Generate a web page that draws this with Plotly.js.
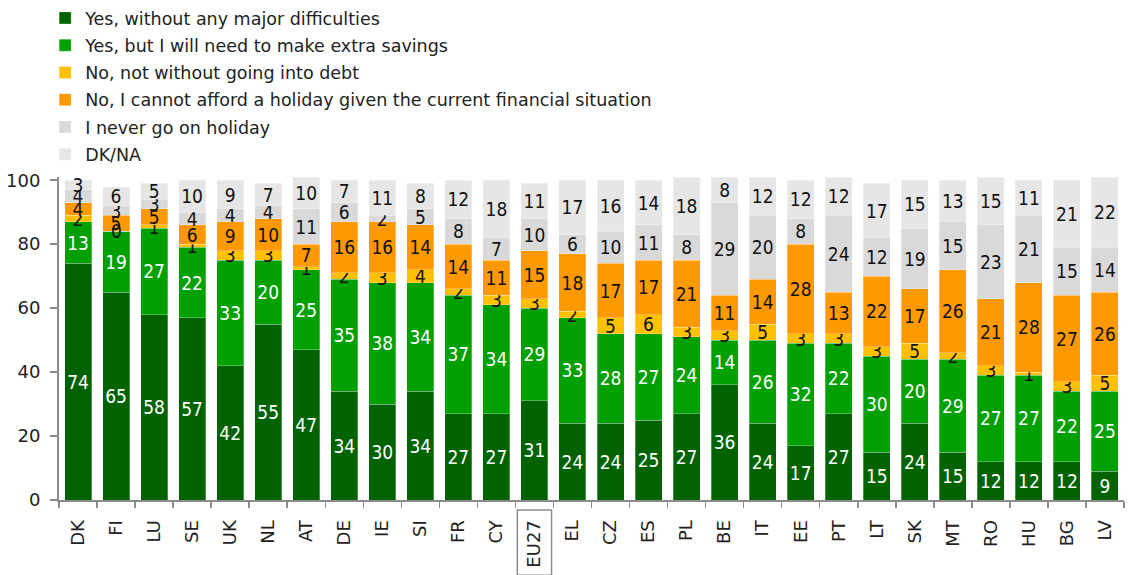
<!DOCTYPE html>
<html><head><meta charset="utf-8">
<script src="https://cdn.plot.ly/plotly-3.0.1.min.js"></script>
<style>html,body{margin:0;padding:0;background:#fff}#chart{width:1128px;height:575px}</style>
</head><body><div id="chart"></div>
<script>
var countries = ["DK","FI","LU","SE","UK","NL","AT","DE","IE","SI","FR","CY","EU27","EL","CZ","ES","PL","BE","IT","EE","PT","LT","SK","MT","RO","HU","BG","LV"];
var seriesNames = ["Yes, without any major difficulties","Yes, but I will need to make extra savings","No, not without going into debt","No, I cannot afford a holiday given the current financial situation","I never go on holiday","DK/NA"];
var yesEasy   = [74,65,58,57,42,55,47,34,30,34,27,27,31,24,24,25,27,36,24,17,27,15,24,15,12,12,12,9];
var yesSave   = [13,19,27,22,33,20,25,35,38,34,37,34,29,33,28,27,24,14,26,32,22,30,20,29,27,27,22,25];
var noDebt    = [2,0,1,1,3,3,1,2,3,4,2,3,3,2,5,6,3,3,5,3,3,3,5,2,3,1,3,5];
var noAfford  = [4,5,5,6,9,10,7,16,16,14,14,11,15,18,17,17,21,11,14,28,13,22,17,26,21,28,27,26];
var neverGo   = [4,3,3,4,4,4,11,6,2,5,8,7,10,6,10,11,8,29,20,8,24,12,19,15,23,21,15,14];
var dkna      = [3,6,5,10,9,7,10,7,11,8,12,18,11,17,16,14,18,8,12,12,12,17,15,13,15,11,21,22];
var yTicks    = [0,20,40,60,80,100];

var allVals = [yesEasy,yesSave,noDebt,noAfford,neverGo,dkna];
var colors = ["#006300","#00A000","#FFC000","#FF9900","#D9D9D9","#E6E6E6"];
var textColors = ["#ffffff","#ffffff","#111111","#111111","#111111","#111111"];
var FONT = "DejaVu Sans, sans-serif";
var LFONT = "DejaVu Sans Condensed, DejaVu Sans, sans-serif";

var traces = allVals.map(function(v,i){
  return {
    type:"bar", name:seriesNames[i], x:countries, y:v,
    legendgroup:"g"+i,
    marker:{color:colors[i], line:{color:"rgba(255,255,255,0.35)", width:0.8}},
    text:v.map(String), textposition:"inside", insidetextanchor:"middle", textangle:0,
    constraintext:"none", cliponaxis:false,
    textfont:{family:LFONT, size:19, color:textColors[i]},
    hoverinfo:"skip"
  };
});

// zero-height segments still carry their "0" label in the reference
var annotations = [];
allVals.forEach(function(v,i){
  v.forEach(function(val,j){
    if(val === 0){
      var base = 0;
      for(var k=0;k<i;k++) base += allVals[k][j];
      annotations.push({x:countries[j], y:base, xref:"x", yref:"y", text:String(val),
        showarrow:false, font:{family:LFONT, size:19, color:textColors[i]}});
    }
  });
});

var layout = {
  width:1128, height:575,
  margin:{l:59, r:4, t:177, b:75},
  barmode:"stack", bargap:0.29,
  paper_bgcolor:"#fff", plot_bgcolor:"#fff",
  font:{family:FONT, color:"#222"},
  showlegend:true,
  legend:{x:-0.013, y:1.0, xref:"paper", yref:"container", xanchor:"left", yanchor:"top",
    traceorder:"grouped", tracegroupgap:1.5, font:{family:FONT, size:17.5, color:"#222"},
    bgcolor:"rgba(0,0,0,0)", itemwidth:30},
  xaxis:{type:"category", tickangle:-90, tickfont:{family:FONT, size:18, color:"#222"},
    showline:true, linecolor:"#8c8c8c", linewidth:2, ticks:"outside", tickson:"boundaries",
    ticklen:6, tickcolor:"#8c8c8c", tickwidth:1.5, showgrid:false, zeroline:false,
    ticklabelstandoff:11},
  yaxis:{range:[0,101], tickvals:yTicks, tickfont:{family:FONT, size:18, color:"#222"},
    showline:true, linecolor:"#8c8c8c", linewidth:2, ticks:"outside", ticklen:7,
    tickcolor:"#8c8c8c", tickwidth:1.5, showgrid:false, zeroline:false, ticklabelstandoff:6},
  annotations:annotations,
  shapes:[{type:"rect", xref:"x", yref:"paper", x0:11.55, x1:12.45, y0:-0.031, y1:-0.233,
    line:{color:"#8c8c8c", width:1.5}}]
};
Plotly.newPlot("chart", traces, layout, {displayModeBar:false, staticPlot:true});
</script></body></html>
